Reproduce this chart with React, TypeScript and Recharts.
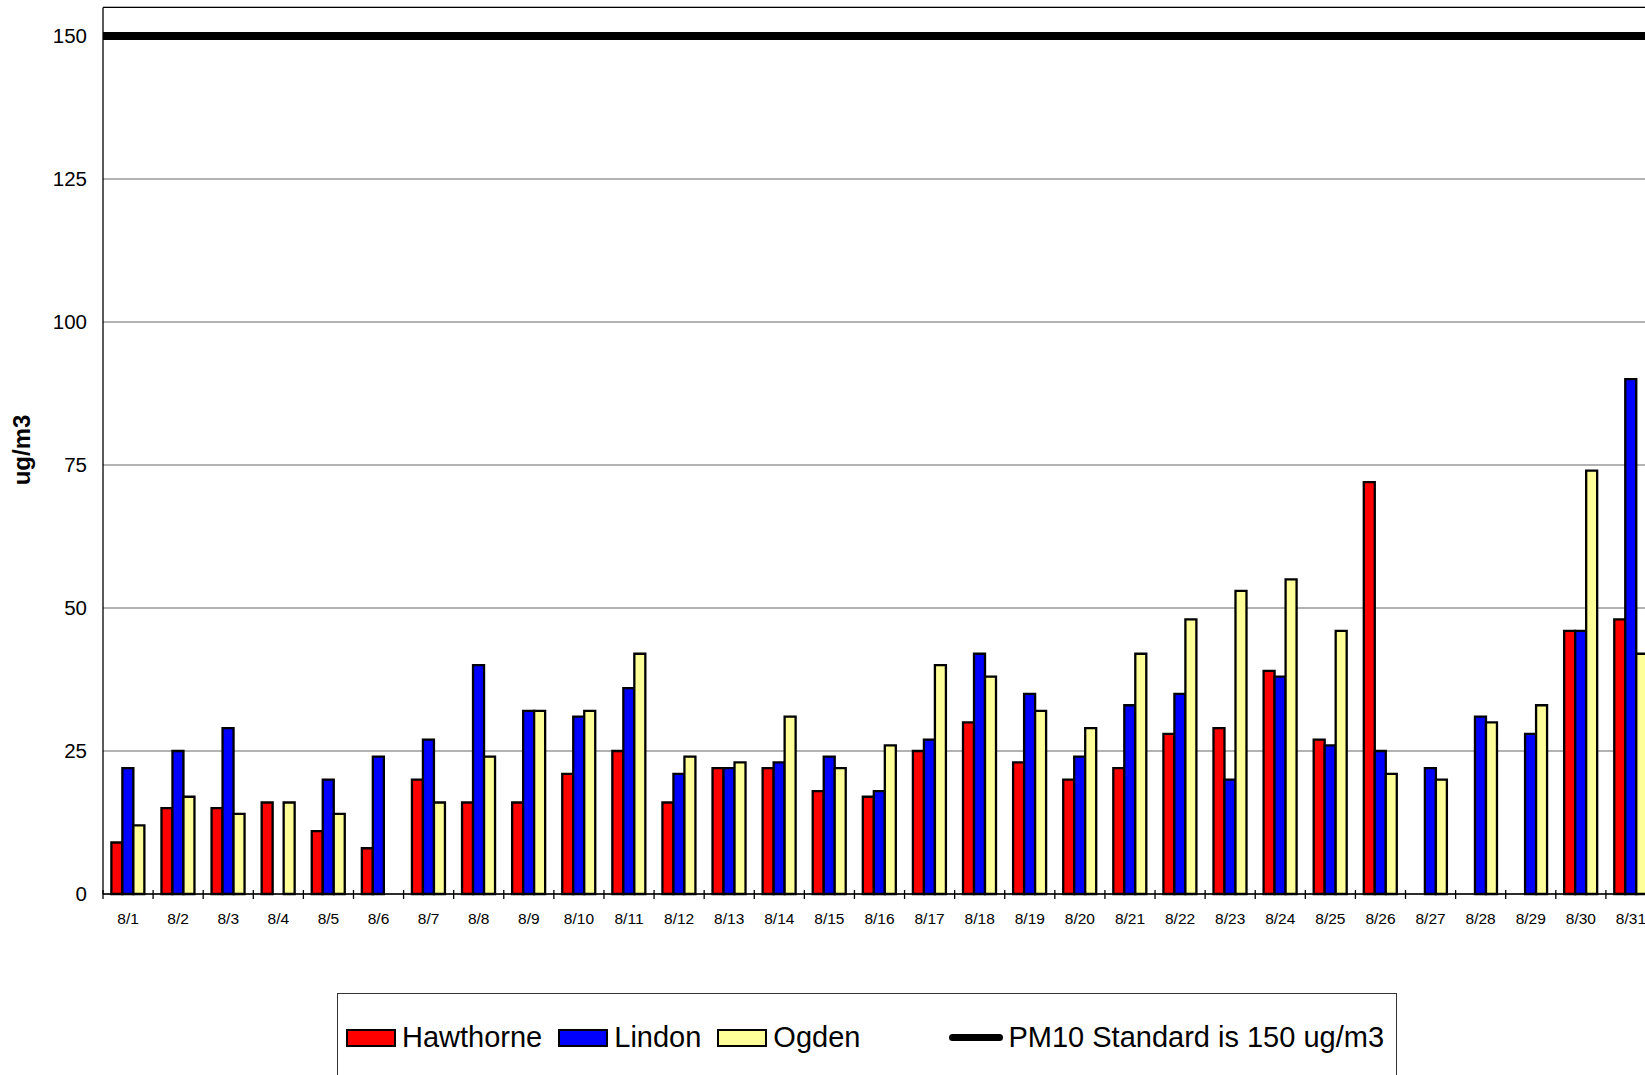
import React from 'react';
import { BarChart, Bar, XAxis, YAxis, CartesianGrid, ReferenceLine } from 'recharts';

// Daily PM10 readings for August, by monitoring station (ug/m3)
const DATES = [
  '8/1', '8/2', '8/3', '8/4', '8/5', '8/6', '8/7', '8/8', '8/9', '8/10',
  '8/11', '8/12', '8/13', '8/14', '8/15', '8/16', '8/17', '8/18', '8/19', '8/20',
  '8/21', '8/22', '8/23', '8/24', '8/25', '8/26', '8/27', '8/28', '8/29', '8/30', '8/31',
];
const HAWTHORNE = [9, 15, 15, 16, 11, 8, 20, 16, 16, 21, 25, 16, 22, 22, 18, 17, 25, 30, 23, 20, 22, 28, 29, 39, 27, 72, null, null, null, 46, 48];
const LINDON = [22, 25, 29, null, 20, 24, 27, 40, 32, 31, 36, 21, 22, 23, 24, 18, 27, 42, 35, 24, 33, 35, 20, 38, 26, 25, 22, 31, 28, 46, 90];
const OGDEN = [12, 17, 14, 16, 14, null, 16, 24, 32, 32, 42, 24, 23, 31, 22, 26, 40, 38, 32, 29, 42, 48, 53, 55, 46, 21, 20, 30, 33, 74, 42];
const Y_TICKS = [0, 25, 50, 75, 100, 125, 150];
const Y_MAX = 155;
const PM10_STANDARD = 150;
const STANDARD_LABEL = 'PM10 Standard is 150 ug/m3';

const SERIES = [
  { key: 'Hawthorne', values: HAWTHORNE, color: '#FF0000' },
  { key: 'Lindon', values: LINDON, color: '#0000FF' },
  { key: 'Ogden', values: OGDEN, color: '#FFFF99' },
];

const rows = DATES.map((date, i) => {
  const row: Record<string, string | number | null> = { date };
  SERIES.forEach((s) => {
    row[s.key] = s.values[i];
  });
  return row;
});

const FONT = '"Liberation Sans", Arial, Helvetica, sans-serif';

// Date label centred under each group, with the tick mark on the group boundary
const DateTick = (props: any) => {
  const { x, y, payload } = props;
  const half = payload && typeof payload.offset === 'number' ? payload.offset : 0;
  return (
    <g>
      <line x1={x - half} x2={x - half} y1={y - 4} y2={y + 5} stroke="#000" strokeWidth={1.3} />
      <text x={x} y={y + 30} textAnchor="middle" fontSize={15.5} fill="#000" fontFamily={FONT}>
        {payload.value}
      </text>
    </g>
  );
};

const UnitTitle = () => (
  <text
    x={30}
    y={450}
    transform="rotate(-90 30 450)"
    textAnchor="middle"
    fontSize={24}
    fontWeight="bold"
    fill="#000"
    fontFamily={FONT}
  >
    ug/m3
  </text>
);

const Swatch = ({ color }: { color: string }) => (
  <span
    style={{
      display: 'inline-block',
      width: 50,
      height: 18,
      boxSizing: 'border-box',
      border: '2.5px solid #000',
      background: color,
    }}
  />
);

const legendText: React.CSSProperties = {
  fontFamily: FONT,
  fontSize: 29,
  lineHeight: '29px',
  color: '#000',
  whiteSpace: 'nowrap',
};

export default function App() {
  return (
    <div
      style={{
        position: 'fixed',
        left: 0,
        top: 0,
        width: 1645,
        height: 1075,
        overflow: 'hidden',
        background: '#fff',
      }}
    >
      <BarChart
        width={1700}
        height={1075}
        data={rows}
        margin={{ top: 7.4, right: 44, bottom: 151, left: 0 }}
        barCategoryGap="16.7%"
        barGap={0}
      >
        <CartesianGrid vertical={false} stroke="#666" strokeWidth={1} />
        <XAxis
          dataKey="date"
          interval={0}
          height={30}
          tickLine={false}
          tickSize={0}
          tickMargin={0}
          axisLine={{ stroke: '#000', strokeWidth: 1.5 }}
          tick={<DateTick />}
        />
        <YAxis
          width={103}
          domain={[0, Y_MAX]}
          ticks={Y_TICKS}
          interval={0}
          tickLine={false}
          tickSize={0}
          tickMargin={16}
          axisLine={{ stroke: '#000', strokeWidth: 1.3 }}
          tick={{ fontSize: 20.5, fill: '#000', fontFamily: FONT }}
          label={{ content: () => <UnitTitle /> }}
        />
        {SERIES.map((s) => (
          <Bar
            key={s.key}
            dataKey={s.key}
            fill={s.color}
            stroke="#000"
            strokeWidth={2.3}
            isAnimationActive={false}
          />
        ))}
        <ReferenceLine y={Y_MAX} stroke="#000" strokeWidth={1.3} />
        <ReferenceLine y={PM10_STANDARD} stroke="#000" strokeWidth={8} />
      </BarChart>

      <div
        style={{
          position: 'absolute',
          left: 337,
          top: 993,
          width: 1060,
          height: 86,
          boxSizing: 'border-box',
          border: '1px solid #333',
          background: '#fff',
        }}
      >
        <div
          style={{
            position: 'absolute',
            left: 8,
            top: 34,
            height: 19,
            display: 'flex',
            alignItems: 'center',
          }}
        >
          {SERIES.map((s, i) => (
            <span
              key={s.key}
              style={{ display: 'flex', alignItems: 'center', marginLeft: i === 0 ? 0 : 16 }}
            >
              <Swatch color={s.color} />
              <span style={{ ...legendText, marginLeft: 6 }}>{s.key}</span>
            </span>
          ))}
          <span style={{ display: 'flex', alignItems: 'center', marginLeft: 89 }}>
            <span
              style={{
                display: 'inline-block',
                width: 54,
                height: 7,
                borderRadius: 4,
                background: '#000',
              }}
            />
            <span style={{ ...legendText, marginLeft: 5 }}>{STANDARD_LABEL}</span>
          </span>
        </div>
      </div>
    </div>
  );
}
